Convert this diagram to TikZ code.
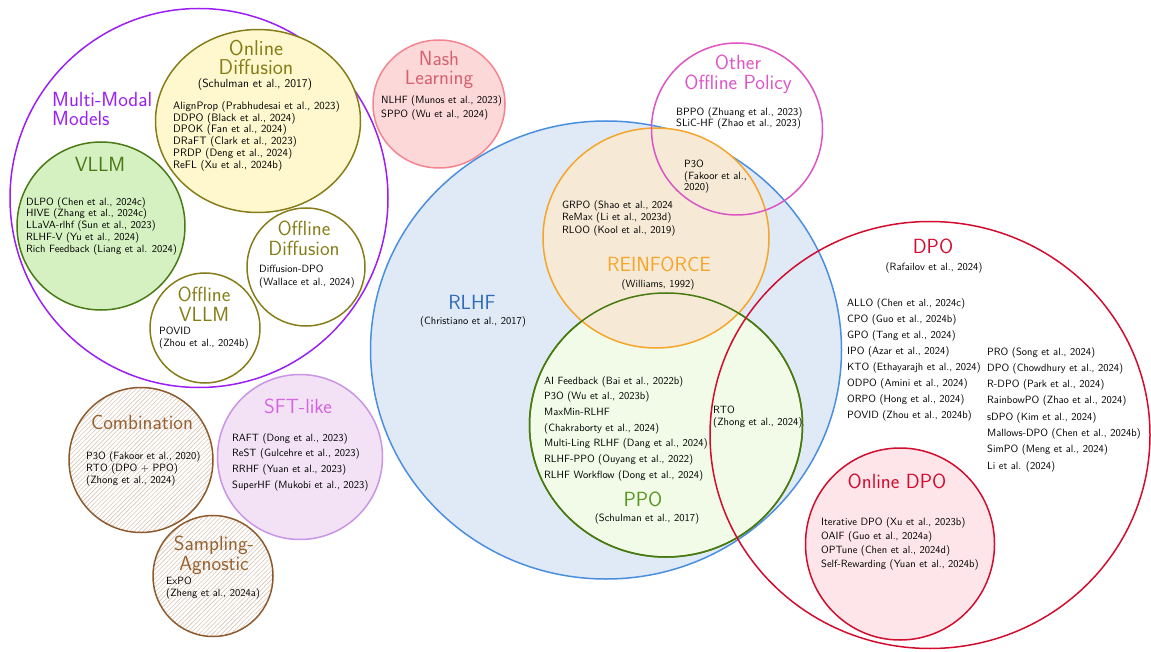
\documentclass[tikz,border=0pt]{standalone}
\usepackage{tikz}
\usetikzlibrary{shapes.geometric, patterns.meta}

\definecolor{mmpurple}{HTML}{9B1FF5}
\definecolor{diffolive}{HTML}{877D18}
\definecolor{diffyellow}{HTML}{FFF8CE}
\definecolor{vllmgreen}{HTML}{4A7A16}
\definecolor{vllmfill}{HTML}{D5F0C1}
\definecolor{nashline}{HTML}{F4848F}
\definecolor{nashfill}{HTML}{FDD8D9}
\definecolor{nashtext}{HTML}{D5616F}
\definecolor{offpink}{HTML}{DD55C5}
\definecolor{rlhfblue}{HTML}{4A8FDF}
\definecolor{rlhffill}{HTML}{DFEAF6}
\definecolor{rlhftext}{HTML}{2E6AB8}
\definecolor{reinorange}{HTML}{F4A52A}
\definecolor{reinfill}{HTML}{F6E9D6}
\definecolor{ppogreen}{HTML}{477A0F}
\definecolor{ppofill}{HTML}{F1FBE8}
\definecolor{ppotext}{HTML}{5A9420}
\definecolor{dpored}{HTML}{D10C2E}
\definecolor{odpofill}{HTML}{FDE5E9}
\definecolor{sftline}{HTML}{C995E5}
\definecolor{sftfill}{HTML}{F3E1F6}
\definecolor{sfttext}{HTML}{D566E0}
\definecolor{combbrown}{HTML}{8E5A2C}
\definecolor{combhatch}{HTML}{D8C4B4}
\definecolor{combtext}{HTML}{96602F}

\begin{document}
\begin{tikzpicture}[x=1pt, y=-1pt, font=\sffamily,
  set/.style={ellipse, inner sep=0pt, outer sep=0pt, line width=1.5pt},
  title/.style={font=\sffamily\fontsize{20.5}{19.5}\selectfont, align=center, anchor=north, inner sep=0pt},
  cite/.style={font=\sffamily\fontsize{10.5}{12}\selectfont, anchor=north, inner sep=0pt},
  items/.style={font=\sffamily\fontsize{10.5}{#1}\selectfont, align=left, anchor=north west, inner sep=0pt},
  hatch/.style={pattern={Lines[angle=45, distance=3.2pt, line width=0.6pt]}, pattern color=combhatch}]
\useasboundingbox (0,0) rectangle (1151,652);

% multi-modal group
\node[set, draw=mmpurple, minimum width=378, minimum height=379] (mm) at (199,198) {};
\node[set, draw=diffolive, fill=diffyellow, minimum width=205, minimum height=183] (ondiff) at (258,121) {};
\node[set, draw=vllmgreen, fill=vllmfill, minimum width=168, minimum height=168] (vllm) at (101,226) {};
\node[set, draw=diffolive, minimum width=118, minimum height=118] (offdiff) at (306,267) {};
\node[set, draw=diffolive, fill=white, minimum width=110, minimum height=110] (offvllm) at (205,328) {};

% left-bottom sets
\node[set, draw=combbrown, hatch, minimum width=144, minimum height=145] (comb) at (141,460) {};
\node[set, draw=sftline, fill=sftfill, minimum width=165, minimum height=165] (sft) at (300,457) {};
\node[set, draw=combbrown, hatch, minimum width=120, minimum height=121] (samp) at (213,576) {};

% nash
\node[set, draw=nashline, fill=nashfill, minimum width=132, minimum height=128] (nash) at (439,104) {};

% rlhf family
\node[set, draw=rlhfblue, fill=rlhffill, minimum width=471, minimum height=458] (rlhf) at (606,350) {};
\node[set, draw=ppogreen, fill=ppofill, minimum width=273, minimum height=264] (ppo) at (666,425) {};
\node[set, draw=reinorange, fill=reinfill, minimum width=226, minimum height=220] (rein) at (656,238) {};
\node[set, draw=ppogreen, minimum width=273, minimum height=264] at (ppo) {};
\node[set, draw=offpink, minimum width=171, minimum height=172] (other) at (737,129) {};

% dpo family
\node[set, draw=dpored, fill=odpofill, minimum width=189, minimum height=192] (odpo) at (900,544) {};
\node[set, draw=dpored, minimum width=440, minimum height=427] (dpo) at (930,435) {};

% titles
\node[title, text=mmpurple, align=left, anchor=north west] (mmtitle) at (52,92) {Multi-Modal\\Models};
\node[title, text=diffolive, font=\sffamily\fontsize{21.5}{19.5}\selectfont] (ondifftitle) at (256,40) {Online\\Diffusion};
\node[title, text=vllmgreen] (vllmtitle) at (100,157) {VLLM};
\node[title, text=diffolive] (offdifftitle) at (304,221) {Offline\\Diffusion};
\node[title, text=diffolive] (offvllmtitle) at (204,287) {Offline\\VLLM};
\node[title, text=nashtext] (nashtitle) at (439,51) {Nash\\Learning};
\node[title, text=offpink] (othertitle) at (738,55) {Other\\Offline Policy};
\node[title, text=reinorange] (reintitle) at (659,257) {REINFORCE};
\node[title, text=rlhftext] (rlhftitle) at (472,295) {RLHF};
\node[title, text=ppotext] (ppotitle) at (643,492) {PPO};
\node[title, text=dpored] (dpotitle) at (933,239) {DPO};
\node[title, text=dpored] (odpotitle) at (897,474) {Online DPO};
\node[title, text=sfttext] (sfttitle) at (298,399) {SFT-like};
\node[title, text=combtext] (combtitle) at (142,415) {Combination};
\node[title, text=combtext] (samptitle) at (214,536) {Sampling-\\Agnostic};

% citations under titles
\node[cite, font=\sffamily\fontsize{11.8}{13}\selectfont] (ondiffcite) at (255,78) {(Schulman et al., 2017)};
\node[cite] (reincite) at (658,279) {(Williams, 1992)};
\node[cite] (rlhfcite) at (473,316) {(Christiano et al., 2017)};
\node[cite] (ppocite) at (647,513) {(Schulman et al., 2017)};
\node[cite] (dpocite) at (934,262) {(Rafailov et al., 2024)};

% methods
\node[items=11.8, font=\sffamily\fontsize{10.8}{11.8}\selectfont] (ondiffitems) at (173,101) {AlignProp (Prabhudesai et al., 2023)\\DDPO (Black et al., 2024)\\DPOK (Fan et al., 2024)\\DRaFT (Clark et al., 2023)\\PRDP (Deng et al., 2024)\\ReFL (Xu et al., 2024b)};
\node[items=11.8] (vllmitems) at (26,197) {DLPO (Chen et al., 2024c)\\HIVE (Zhang et al., 2024c)\\LLaVA-rlhf (Sun et al., 2023)\\RLHF-V (Yu et al., 2024)\\Rich Feedback (Liang et al. 2024)};
\node[items=13] (offdiffitems) at (259,265) {Diffusion-DPO\\(Wallace et al., 2024)};
\node[items=12] (offvllmitems) at (159,327) {POVID\\(Zhou et al., 2024b)};
\node[items=14] (nashitems) at (381,95) {NLHF (Munos et al., 2023)\\SPPO (Wu et al., 2024)};
\node[items=11.5] (otheritems) at (676,107) {BPPO (Zhuang et al., 2023)\\SLiC-HF (Zhao et al., 2023)};
\node[items=11.5] (p3oitems) at (684,160) {P3O\\(Fakoor et al.,\\2020)};
\node[items=12.5] (reinitems) at (562,200) {GRPO (Shao et al., 2024\\ReMax (Li et al., 2023d)\\RLOO (Kool et al., 2019)};
\node[items=15.7] (ppoitems) at (544,376) {AI Feedback (Bai et al., 2022b)\\P3O (Wu et al., 2023b)\\MaxMin-RLHF\\(Chakraborty et al., 2024)\\Multi-Ling RLHF (Dang et al., 2024)\\RLHF-PPO (Ouyang et al., 2022)\\RLHF Workflow (Dong et al., 2024)};
\node[items=12] (rtoitems) at (713,406) {RTO\\(Zhong et al., 2024)};
\node[items=16.1] (dpoleft) at (847,298) {ALLO (Chen et al., 2024c)\\CPO (Guo et al., 2024b)\\GPO (Tang et al., 2024)\\IPO (Azar et al., 2024)\\KTO (Ethayarajh et al., 2024)\\ODPO (Amini et al., 2024)\\ORPO (Hong et al., 2024)\\POVID (Zhou et al., 2024b)};
\node[items=16.3] (dporight) at (987,347) {PRO (Song et al., 2024)\\DPO (Chowdhury et al., 2024)\\R-DPO (Park et al., 2024)\\RainbowPO (Zhao et al., 2024)\\sDPO (Kim et al., 2024)\\Mallows-DPO (Chen et al., 2024b)\\SimPO (Meng et al., 2024)\\Li et al. (2024)};
\node[items=14] (odpoitems) at (821,517) {Iterative DPO (Xu et al., 2023b)\\OAIF (Guo et al., 2024a)\\OPTune (Chen et al., 2024d)\\Self-Rewarding (Yuan et al., 2024b)};
\node[items=15.7] (sftitems) at (232,433) {RAFT (Dong et al., 2023)\\ReST (Gulcehre et al., 2023)\\RRHF (Yuan et al., 2023)\\SuperHF (Mukobi et al., 2023)};
\node[items=12] (combitems) at (86,451) {P3O (Fakoor et al., 2020)\\RTO (DPO + PPO)\\(Zhong et al., 2024)};
\node[items=12] (sampitems) at (166,577) {ExPO\\(Zheng et al., 2024a)};
\end{tikzpicture}
\end{document}
